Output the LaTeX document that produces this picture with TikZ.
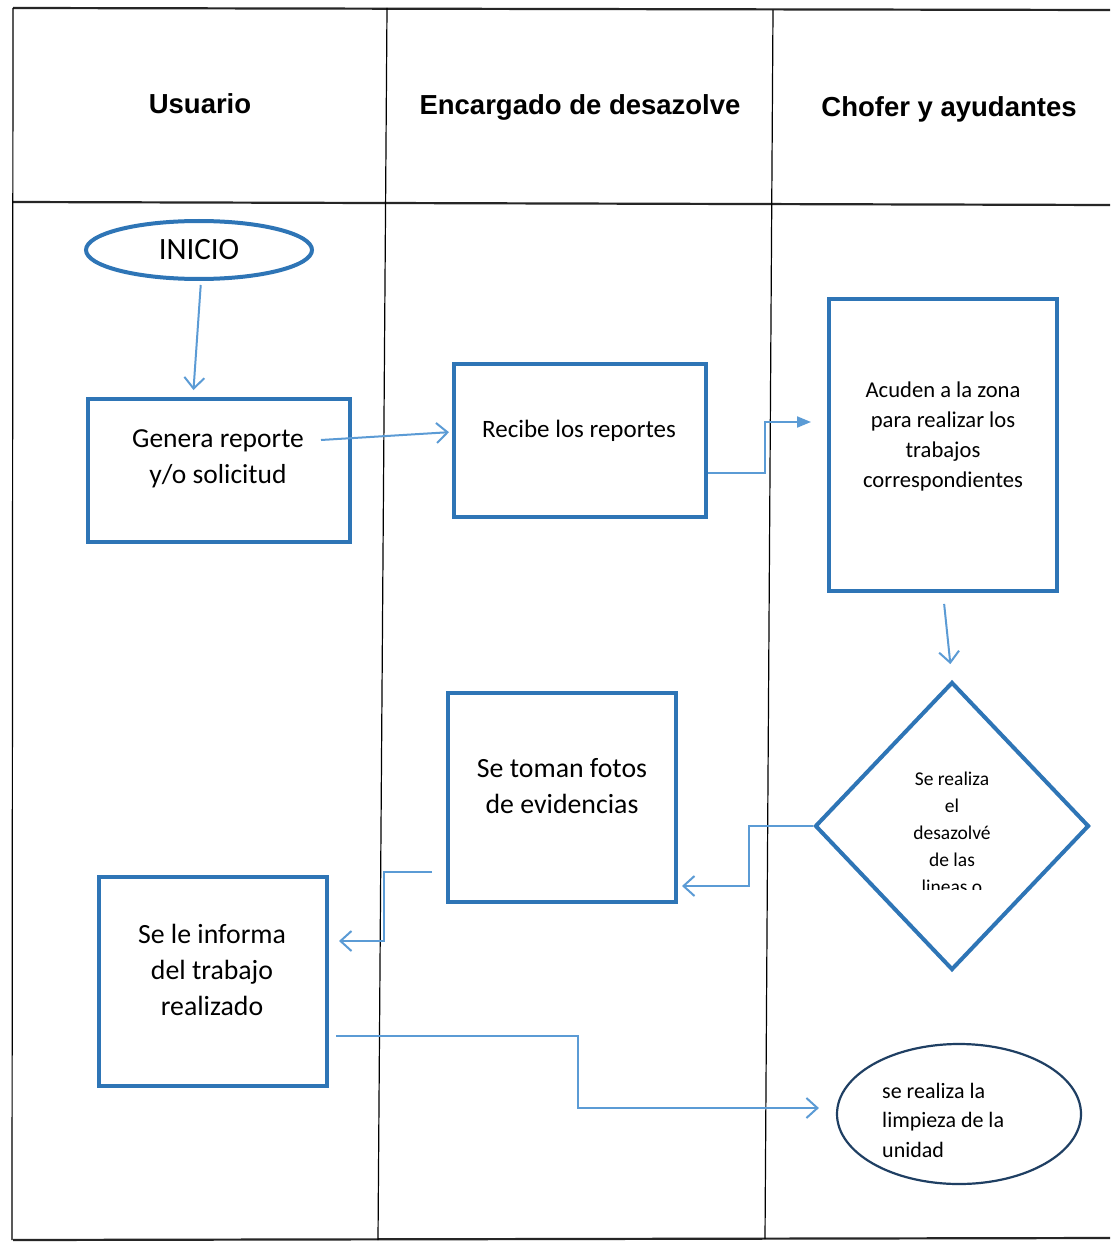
\documentclass[tikz,border=0pt]{standalone}
\usepackage{fontspec}
\setmainfont{Carlito}
\newfontfamily\hdrfont{Liberation Sans}
\usetikzlibrary{shapes.geometric,arrows.meta,calc}
\definecolor{boxblue}{HTML}{2E75B6}
\definecolor{linkblue}{HTML}{5B9BD5}
\definecolor{navy}{HTML}{1F3F63}
\begin{document}
\begin{tikzpicture}[x=1pt,y=-1pt,
  tbl/.style={draw=black,line width=1.2pt},
  tblthick/.style={draw=black!85,line width=2.2pt},
  hdr/.style={font=\hdrfont\bfseries\fontsize{27.5}{33}\selectfont,inner sep=0pt},
  stepbox/.style={draw=boxblue,line width=4pt,rectangle,inner sep=0pt},
  boxtext/.style={align=center,inner sep=0pt},
  conn/.style={draw=linkblue,line width=2pt,-{Straight Barb[length=11pt,width=20pt]}},
  connfill/.style={draw=linkblue,line width=2pt,-{Triangle[length=14pt,width=11pt]}},
]
\useasboundingbox (0,0) rectangle (1110,1246);
\fill[white] (0,0) rectangle (1110,1246);

% table
\draw[tblthick] (13,8) -- (1110,10);
\draw[tblthick] (13,202) -- (1110,205);
\draw[tblthick] (13,1240) -- (1110,1238);
\draw[tbl] (13,8) -- (12,1240);
\draw[tbl] (387,8) -- (378,1240);
\draw[tbl] (773,10) -- (765,1239);

% headers
\node[hdr] (h1) at (200,104) {Usuario};
\node[hdr] (h2) at (580,107) {Encargado de desazolve};
\node[hdr] (h3) at (949,109) {Chofer y ayudantes};

% shapes
\node[ellipse,draw=boxblue,line width=4pt,minimum width=226pt,minimum height=58pt,inner sep=0pt,
      font=\fontsize{31}{36}\selectfont] (inicio) at (199,250) {INICIO};
\node[stepbox,minimum width=262pt,minimum height=143pt] (genera) at (219,470.5) {};
\node[boxtext,font=\fontsize{27.5}{36}\selectfont] (generat) at (218,459) {Genera reporte\\y/o solicitud};

\node[stepbox,minimum width=252pt,minimum height=153pt] (recibe) at (580,440.5) {};
\node[boxtext,font=\fontsize{25}{30}\selectfont] (recibet) at (579,431) {Recibe los reportes};

\node[stepbox,minimum width=228pt,minimum height=292pt] (acuden) at (943,445) {};
\node[boxtext,font=\fontsize{22.6}{30}\selectfont] (acudent) at (943,436) {Acuden a la zona\\para realizar los\\trabajos\\correspondientes};

\node[diamond,draw=boxblue,line width=4pt,minimum width=274pt,minimum height=288pt,inner sep=0pt] (diam) at (952,826) {};
\begin{scope}
  \clip (830,700) rectangle (1080,889);
  \node[boxtext,anchor=north,font=\fontsize{19.5}{27}\selectfont] (diamt) at (952,772) {Se realiza\\el\\desazolvé\\de las\\lineas o};
\end{scope}

\node[stepbox,minimum width=228pt,minimum height=209pt] (toman) at (562,797.5) {};
\node[boxtext,font=\fontsize{27.8}{36}\selectfont] (tomant) at (562,786) {Se toman fotos\\de evidencias};

\node[stepbox,minimum width=228pt,minimum height=209pt] (informa) at (213,981.5) {};
\node[boxtext,font=\fontsize{27.8}{36}\selectfont] (informat) at (212,970) {Se le informa\\del trabajo\\realizado};

\node[ellipse,draw=navy,line width=2.2pt,minimum width=244pt,minimum height=140pt,inner sep=0pt] (limp) at (959,1114) {};
\node[align=left,anchor=west,inner sep=0pt,font=\fontsize{22}{29.5}\selectfont] (limpt) at (882,1120) {se realiza la\\limpieza de la\\unidad};

% connectors
\draw[conn,shorten <=4pt,shorten >=7pt] ([xshift=2pt]inicio.south) -- ([xshift=-26pt]genera.north);
\coordinate (gout) at (321,440);
\draw[conn,shorten >=3pt] (gout) -- ([yshift=8.5pt]recibe.west);
\draw[connfill,shorten >=16pt] ([yshift=-32.5pt]recibe.east) -- ++(57,0) |- ([yshift=23pt]acuden.west);
\draw[conn,shorten <=11pt,shorten >=16pt] (acuden.south) -- (diam.north);
\draw[conn,shorten >=4pt] (diam.west) -- ++(-64,0) |- ([yshift=-88.5pt]toman.east);
\coordinate (tout) at (432,872);
\draw[conn,shorten >=10pt] (tout) -- ++(-48,0) |- ([yshift=40.5pt]informa.east);
\coordinate (iout) at (336,1036);
\draw[conn,shorten >=17pt] (iout) -- ++(242,0) |- ([yshift=6pt]limp.west);
\end{tikzpicture}
\end{document}
